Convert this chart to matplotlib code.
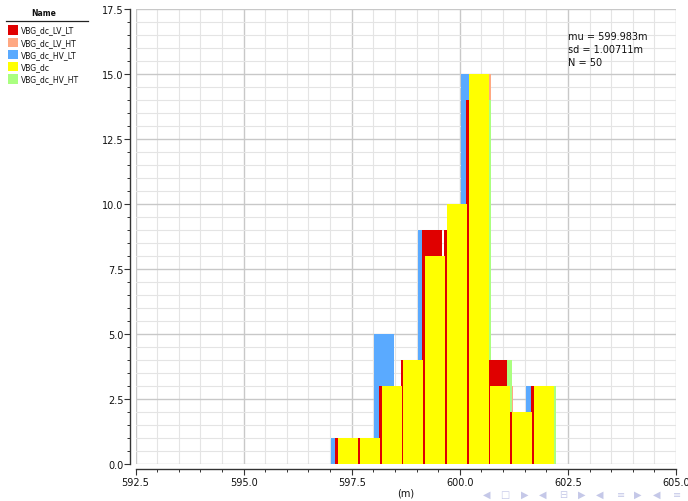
import matplotlib
matplotlib.use('Agg')
import matplotlib.pyplot as plt
from matplotlib.patches import Rectangle
from matplotlib.lines import Line2D
from matplotlib.ticker import MultipleLocator, FormatStrFormatter

# ---------------- data ----------------
series_names = ["VBG_dc_LV_LT", "VBG_dc_LV_HT", "VBG_dc_HV_LT", "VBG_dc", "VBG_dc_HV_HT"]
series_colors = ["#e00000", "#ffa882", "#5aaaff", "#ffff00", "#aaff80"]
bin_width = 0.502
start_lv_lt = 597.125
start_lv_ht = 597.248
start_hv_lt = 597.021
start_dc = 597.190
start_hv_ht = 597.239
counts_lv_lt = [1, 1, 3, 4, 9, 9, 14, 4, 2, 3]
counts_lv_ht = [1, 1, 3, 4, 8, 10, 15, 3, 2, 3]
counts_hv_lt = [1, 1, 5, 3, 9, 8, 15, 4, 1, 3]
counts_dc = [1, 1, 3, 4, 8, 10, 15, 3, 2, 3]
counts_hv_ht = [1, 1, 3, 4, 8, 10, 14, 4, 2, 3]
stats_lines = ["mu = 599.983m", "sd = 1.00711m", "N = 50"]
x_label = "(m)"
legend_title = "Name"

# ---------------- figure ----------------
W, H = 688, 502
fig = plt.figure(figsize=(W / 100, H / 100), dpi=100)


def fx(px):
    return px / W


def fy(py):
    return 1 - py / H


ax = fig.add_axes([fx(135.5), fy(465), fx(676) - fx(135.5), fy(10) - fy(465)])

series = {
    "VBG_dc_LV_LT": (start_lv_lt, counts_lv_lt),
    "VBG_dc_LV_HT": (start_lv_ht, counts_lv_ht),
    "VBG_dc_HV_LT": (start_hv_lt, counts_hv_lt),
    "VBG_dc": (start_dc, counts_dc),
    "VBG_dc_HV_HT": (start_hv_ht, counts_hv_ht),
}
color_of = dict(zip(series_names, series_colors))
draw_order = ["VBG_dc_HV_LT", "VBG_dc_LV_HT", "VBG_dc_HV_HT", "VBG_dc_LV_LT", "VBG_dc"]
for z, name in enumerate(draw_order):
    start, counts = series[name]
    lefts = [start + i * bin_width for i in range(len(counts))]
    ax.bar(lefts, counts, width=bin_width * 0.92, align='edge',
           color=color_of[name], edgecolor='none', linewidth=0, zorder=3 + z)

ax.set_xlim(592.5, 605.0)
ax.set_ylim(0, 17.5)
ax.xaxis.set_major_locator(MultipleLocator(2.5))
ax.xaxis.set_minor_locator(MultipleLocator(0.5))
ax.yaxis.set_major_locator(MultipleLocator(2.5))
ax.yaxis.set_minor_locator(MultipleLocator(0.5))
ax.xaxis.set_major_formatter(FormatStrFormatter('%.1f'))
ax.yaxis.set_major_formatter(FormatStrFormatter('%.1f'))

ax.set_axisbelow(True)
ax.grid(which='major', color='#c8c8c8', linewidth=1.0, zorder=0)
ax.grid(which='minor', color='#e4e4e4', linewidth=0.8, zorder=0)

for s in ('top', 'right'):
    ax.spines[s].set_visible(False)
ax.spines['left'].set_position(('outward', 4.3))
ax.spines['bottom'].set_position(('outward', 3.6))
for s in ('left', 'bottom'):
    ax.spines[s].set_color('#333333')
    ax.spines[s].set_linewidth(1.0)

ax.tick_params(which='major', length=4, width=0.8, color='#333333',
               labelsize=7, labelcolor='#111111')
ax.tick_params(axis='y', which='major', pad=0.5)
ax.tick_params(axis='x', which='major', pad=2)
ax.tick_params(which='minor', length=2.5, width=0.7, color='#333333')

# x label
fig.text(fx(406), fy(494), x_label, ha='center', va='center', fontsize=7, color='#111111')

# stats text
for i, line in enumerate(stats_lines):
    fig.text(fx(567.5), fy(37 + i * 13), line, ha='left', va='center',
             fontsize=7, color='#111111')

# legend (left panel)
fig.text(fx(44), fy(14), legend_title, ha='center', va='center',
         fontsize=5.5, fontweight='bold', color='#111111')
fig.add_artist(Line2D([fx(6), fx(88)], [fy(22), fy(22)], color='#222222', linewidth=0.9))
for i, name in enumerate(series_names):
    yc = 31 + i * 12.2
    fig.add_artist(Rectangle((fx(8), fy(yc + 4.7)), fx(10), fy(yc - 4.7) - fy(yc + 4.7),
                             facecolor=series_colors[i], edgecolor='none'))
    fig.text(fx(20.5), fy(yc), name, ha='left', va='center', fontsize=5.5, color='#111111')

# faint navigation symbols (bottom right)
nav_symbols = [(487, '◀'), (505, '□'), (525, '▶'), (543, '◀'), (563, '⊟'),
               (582, '▶'), (600, '◀'), (621, '≡'), (638, '▶'), (657, '◀'), (677, '≡')]
for xp, sym in nav_symbols:
    fig.text(fx(xp), fy(495), sym, ha='center', va='center', fontsize=7,
             color='#c5c8e8')

fig.savefig('out.png', dpi=100)
